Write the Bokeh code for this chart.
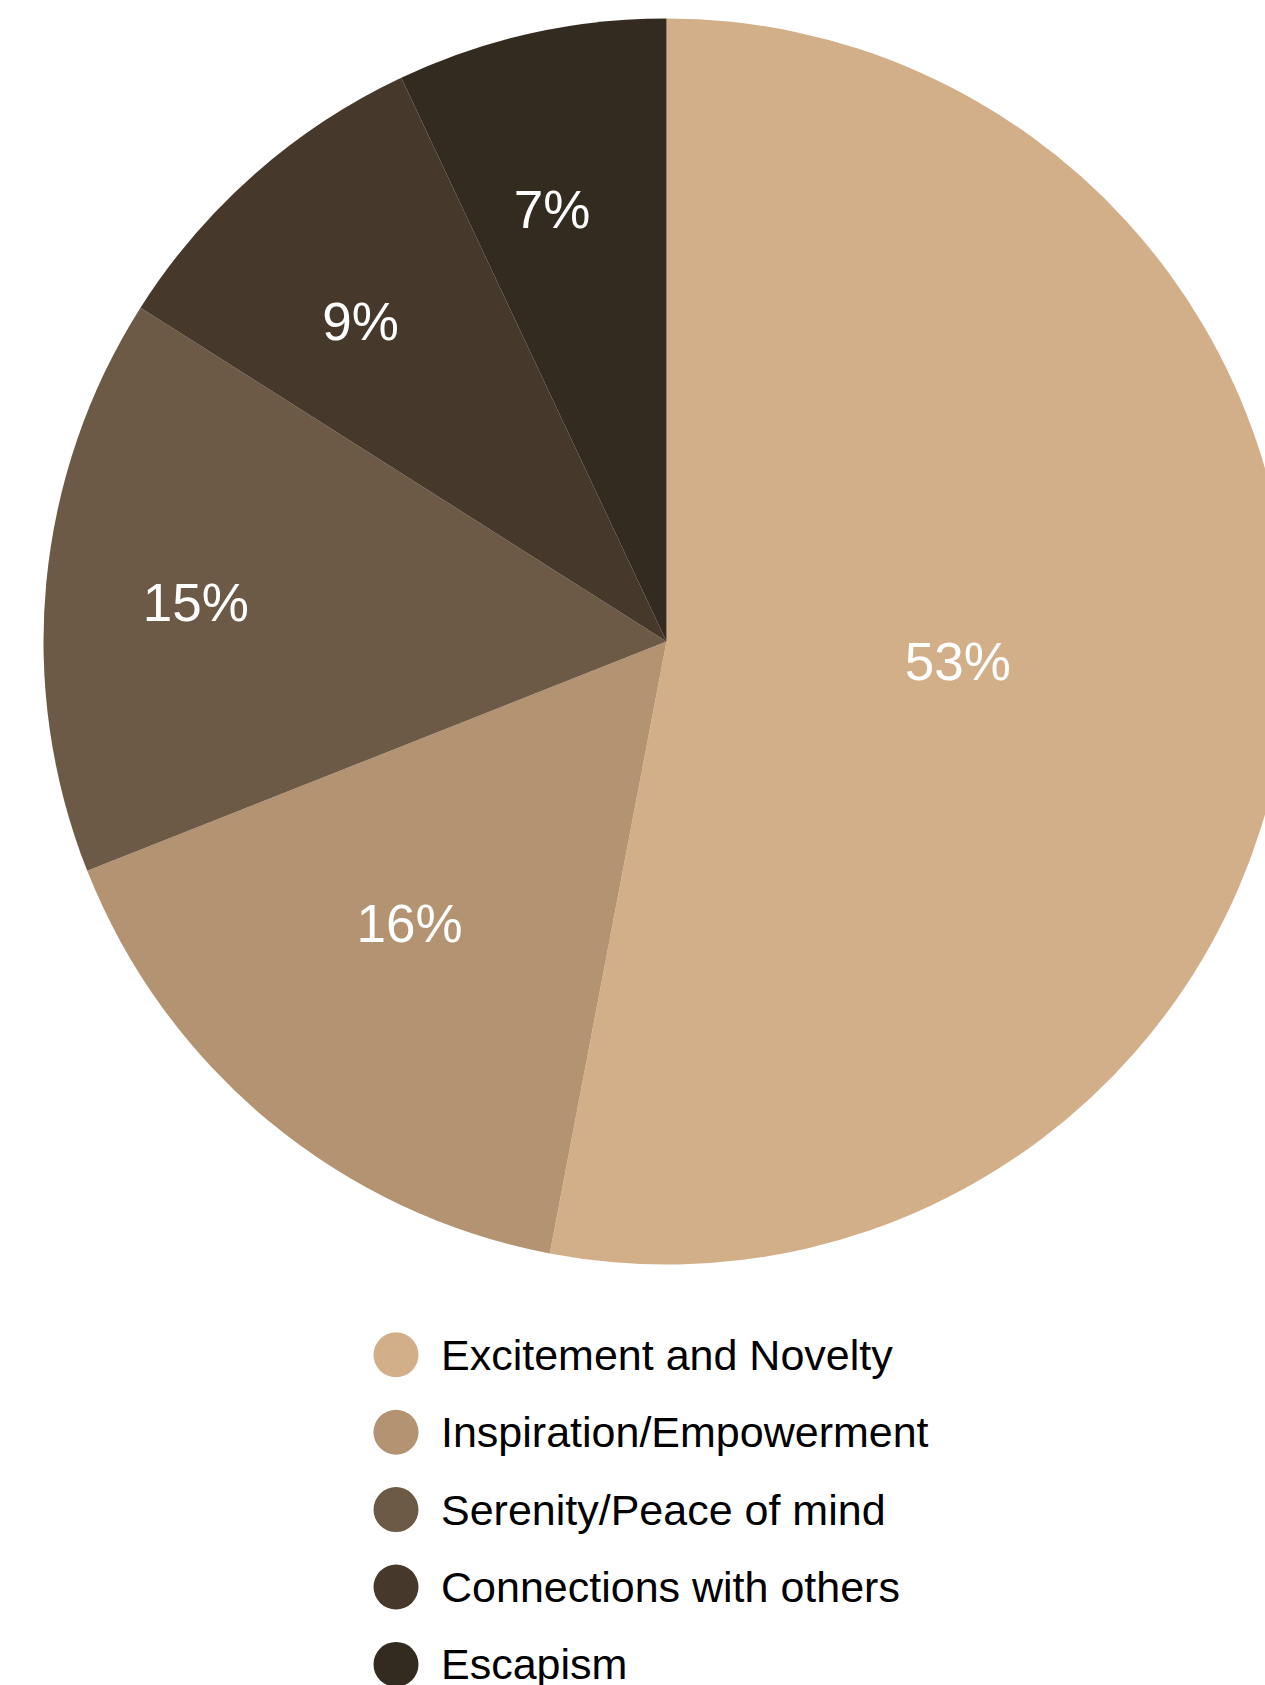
import math
from bokeh.plotting import figure
from bokeh.models import Range1d, ColumnDataSource
from bokeh.core.properties import value
from bokeh.embed import file_html
from bokeh.resources import INLINE

# ---- data ----
categories = ["Excitement and Novelty", "Inspiration/Empowerment",
              "Serenity/Peace of mind", "Connections with others", "Escapism"]
shares = [53, 16, 15, 9, 7]
colors = ["#D3AF89", "#B49372", "#6C5A47", "#46392C", "#332A20"]
labels = [f"{v}%" for v in shares]

# ---- layout ----
W, H = 1265, 1685
CX, CY, R = 666, 1044, 623
label_rf = [0.469, 0.615, 0.758, 0.708, 0.714]      # label distance / radius
label_da = [-1.1, 2.5, -0.9, -2.5, -2.3]            # label angle tweak (deg, clockwise)
FONT = "Liberation Sans"

p = figure(width=W, height=H, x_range=Range1d(0, W), y_range=Range1d(0, H),
           output_backend="svg", toolbar_location=None, min_border=0,
           outline_line_color=None)
p.axis.visible = False
p.grid.visible = False
p.background_fill_color = "white"
p.border_fill_color = "white"

total = float(sum(shares))
starts, ends, lx, ly = [], [], [], []
cum = 0.0
for i, v in enumerate(shares):
    c0 = cum / total * 360.0
    c1 = (cum + v) / total * 360.0
    cum += v
    starts.append(math.radians(90 - c1))
    ends.append(math.radians(90 - c0))
    mid = math.radians(90 - ((c0 + c1) / 2 + label_da[i]))
    lx.append(CX + label_rf[i] * R * math.cos(mid))
    ly.append(CY + label_rf[i] * R * math.sin(mid) + 2)

src = ColumnDataSource(dict(start=starts, end=ends, color=colors, lx=lx, ly=ly,
                            label=labels))
p.wedge(x=CX, y=CY, radius=R, start_angle="start", end_angle="end",
        direction="anticlock", fill_color="color", line_color=None, source=src)
p.text(x="lx", y="ly", text="label", source=src, text_color="white",
       text_font=value(FONT), text_font_size="53px", text_align="center",
       text_baseline="middle")

# legend
LEG_X, LEG_TOP, LEG_STEP = 395.5, 330.7, 77.4
leg_y = [LEG_TOP - i * LEG_STEP for i in range(len(categories))]
lsrc = ColumnDataSource(dict(x=[LEG_X] * len(categories), tx=[LEG_X + 45] * len(categories),
                             y=leg_y, color=colors, name=categories))
p.scatter(x="x", y="y", size=45, marker="circle", fill_color="color",
          line_color=None, source=lsrc)
p.text(x="tx", y="y", text="name", source=lsrc, text_color="#000000",
       text_font=value(FONT), text_font_size="43px", text_align="left",
       text_baseline="middle")

open("out.html", "w").write(file_html(p, INLINE))
